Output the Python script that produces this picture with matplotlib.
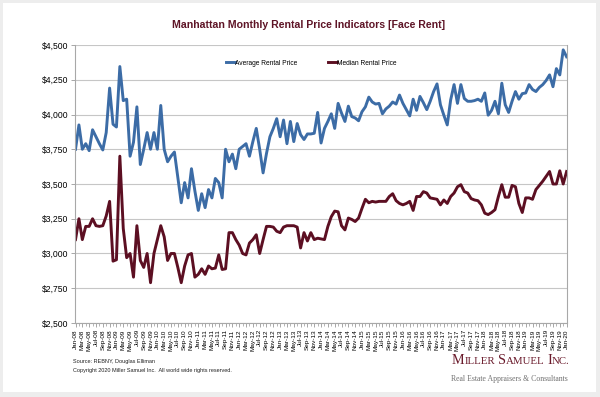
import numpy as np
import pandas as pd
import matplotlib
matplotlib.use("Agg")
import matplotlib.pyplot as plt
from matplotlib.patches import Rectangle
from matplotlib.ticker import FuncFormatter, MultipleLocator

plt.rcParams['font.family'] = ['Liberation Sans', 'DejaVu Sans']

# monthly labels, Jan-08 .. Jan-20
months = pd.date_range("2008-01-01", "2020-01-01", freq="MS").strftime("%b-%y").tolist()

# Average Rental Price
avg_price = [
    3750, 3925, 3750, 3790, 3740, 3890, 3840, 3790, 3745, 3870, 4190, 3930,
    3910, 4345, 4100, 4110, 3700, 3800, 4055, 3640, 3750, 3870, 3750, 3870,
    3750, 4065, 3750, 3660, 3700, 3730, 3550, 3365, 3510, 3400, 3610, 3450,
    3310, 3430, 3330, 3460, 3400, 3540, 3510, 3400, 3750, 3660, 3715, 3610,
    3750, 3770, 3790, 3700, 3805, 3900, 3750, 3580, 3720, 3840, 3900, 3970,
    3840, 3960, 3790, 3950, 3805, 3935, 3855, 3820, 3860, 3860, 3865, 4015,
    3795, 3900, 3950, 4005, 3900, 4080, 4010, 3950, 4060, 3985, 3975, 3955,
    4020, 4055, 4125, 4090, 4075, 4080, 4005, 4040, 4060, 4090, 4075, 4140,
    4080, 4035, 3990, 4110, 4030, 4130, 4085, 4035, 4095, 4165, 4220, 4070,
    3995, 3925, 4105, 4215, 4080, 4215, 4115, 4095, 4095, 4100, 4110, 4095,
    4155, 3995, 4030, 4095, 4005, 4225, 4070, 4015, 4095, 4165, 4110, 4150,
    4155, 4215, 4180, 4165, 4195, 4215, 4245, 4285, 4200, 4330, 4285, 4465,
    4415,
]

# Median Rental Price
med_price = [
    3100, 3250, 3100, 3195, 3195, 3250, 3200, 3195, 3200, 3270, 3375, 2945,
    2955, 3700, 3180, 2970, 3000, 2830, 3200, 2950, 2900, 3000, 2790, 3000,
    3100, 3200, 3120, 2950, 3000, 3000, 2900, 2790, 2910, 2990, 3000, 2830,
    2850, 2890, 2850, 2910, 2890, 2895, 2990, 2885, 2890, 3150, 3150, 3100,
    3060, 3000, 2990, 3075, 3100, 3135, 3000, 3100, 3195, 3195, 3190, 3160,
    3150, 3190, 3200, 3200, 3200, 3190, 3040, 3150, 3090, 3150, 3100, 3110,
    3105, 3100, 3195, 3265, 3305, 3300, 3200, 3170, 3255, 3245, 3230, 3255,
    3325, 3390, 3365, 3375, 3370, 3375, 3375, 3375, 3410, 3430, 3380, 3360,
    3350, 3360, 3375, 3310, 3410, 3410, 3445, 3435, 3400, 3395, 3390, 3350,
    3385, 3360, 3410, 3435, 3480, 3495, 3445, 3435, 3395, 3385, 3380, 3350,
    3290, 3280, 3295, 3315, 3410, 3495, 3405, 3405, 3490, 3480, 3360, 3295,
    3400, 3400, 3390, 3460, 3490, 3520, 3555, 3590, 3500, 3500, 3595, 3500,
    3590,
]

blue = '#3c6ca6'
maroon = '#5c0f22'
grid_gray = '#c6c6c6'

fig = plt.figure(figsize=(6.0, 3.97), dpi=100, facecolor='#ededed')
# white card behind everything
fig.patches.append(Rectangle((3/600, 5/397), 593/600, 389/397, transform=fig.transFigure,
                             facecolor='white', edgecolor='none', zorder=-10))

ax = fig.add_axes([75/600, 74/397, 492.3/600, 278/397])
ax.set_facecolor('white')

x = np.arange(len(months))
ax.plot(x, avg_price, color=blue, lw=2.1, label='Average Rental Price', solid_joinstyle='round')
ax.plot(x, med_price, color=maroon, lw=2.1, label='Median Rental Price', solid_joinstyle='round')

ax.set_xlim(-0.15, len(months) - 1 + 0.2)
ax.set_ylim(2500, 4500)
ax.yaxis.set_major_locator(MultipleLocator(250))
ax.yaxis.set_major_formatter(FuncFormatter(lambda v, p: '${:,.0f}'.format(v)))
ax.grid(axis='y', color=grid_gray, lw=0.8)
ax.set_axisbelow(True)

ax.set_xticks(x[::2])
ax.set_xticklabels(months[::2], rotation=90, fontsize=4.6)
ax.set_xticks(x, minor=True)
ax.tick_params(axis='x', which='major', length=3, width=0.6, color='#999999', pad=1.5)
ax.tick_params(axis='x', which='minor', length=2, width=0.5, color='#999999')
ax.tick_params(axis='y', length=3, width=0.6, color='#999999', labelsize=6.2, pad=2)

for side in ['left', 'right', 'bottom']:
    ax.spines[side].set_color('#a8a8a8')
    ax.spines[side].set_linewidth(0.8)
ax.spines['top'].set_visible(False)

leg = ax.legend(loc='center', bbox_to_anchor=(0.48, 0.935), ncol=2, frameon=False,
                fontsize=4.8, handlelength=1.3, handletextpad=0.05, columnspacing=4.6)

fig.text(309/600, 1 - 25/397, 'Manhattan Monthly Rental Price Indicators [Face Rent]',
         ha='center', va='center', fontsize=7.6, fontweight='bold', color='#5e1426')

fig.text(73/600, 1 - 362/397, 'Source: REBNY, Douglas Elliman', fontsize=4,
         va='center', color='#222222')
fig.text(73/600, 1 - 370.5/397, 'Copyright 2020 Miller Samuel Inc.  All world wide rights reserved.',
         fontsize=4, va='center', color='#222222')

# logo in small caps, built piece by piece
renderer = fig.canvas.get_renderer()
pieces = [('M', 10.2), ('ILLER', 7.8), (' ', 7.8), ('S', 10.2), ('AMUEL', 7.8), (' ', 7.8),
          ('I', 10.2), ('NC.', 7.8)]
px = 452.0
for txt, size in pieces:
    t = fig.text(px / 600, 1 - 364/397, txt, fontsize=size, color='#6a1a2b',
                 family='Liberation Serif', va='baseline', ha='left')
    if txt == ' ':
        px += size * 0.25 * 100 / 72
    else:
        px += t.get_window_extent(renderer).width
fig.text(568/600, 1 - 381/397, 'Real Estate Appraisers & Consultants', fontsize=5.6,
         color='#707070', family='Liberation Serif', ha='right', va='baseline')

fig.savefig('out.png', dpi=100, facecolor=fig.get_facecolor())
